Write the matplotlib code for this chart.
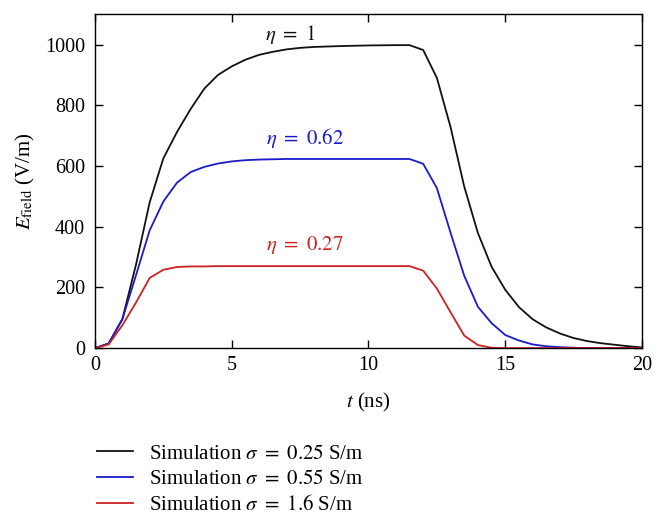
import matplotlib
matplotlib.use("Agg")
import matplotlib.pyplot as plt

plt.rcParams['font.family'] = ['Liberation Serif', 'DejaVu Serif']
plt.rcParams['mathtext.fontset'] = 'stix'

t = [0, 0.5, 1, 1.5, 2, 2.5, 3, 3.5, 4, 4.5, 5, 5.5, 6, 6.5, 7, 7.5, 8, 9, 10, 11, 11.5,
     12, 12.5, 13, 13.5, 14, 14.5, 15, 15.5, 16, 16.5, 17, 17.5, 18, 18.5, 19, 19.5, 20]
e_025 = [0, 15, 95, 275, 480, 625, 712, 788, 855, 900, 928, 950, 966, 976, 984, 989, 992, 995, 997, 998, 998,
         982, 890, 728, 532, 379, 268, 192, 135, 95, 68, 48, 33, 23, 16, 11, 6, 2]
e_055 = [0, 15, 95, 240, 388, 483, 545, 580, 597, 608, 615, 619, 621, 622, 623, 623, 623, 623, 623, 623, 623,
         607, 527, 380, 238, 136, 82, 43, 25, 12, 6, 3, 1, 0, 0, 0, 0, 0]
e_160 = [0, 12, 75, 150, 231, 258, 267, 269, 269, 270, 270, 270, 270, 270, 270, 270, 270, 270, 270, 270, 270,
         255, 196, 118, 41, 10, 1, 0, 0, 0, 0, 0, 0, 0, 0, 0, 0, 0]

labels = [r'Simulation $\sigma\ =\ 0.25$ S/m', r'Simulation $\sigma\ =\ 0.55$ S/m', r'Simulation $\sigma\ =\ 1.6$ S/m']
colors = ['#111111', '#1a1acc', '#cc2222']
eta_text = [r'$\eta\ =\ 1$', r'$\eta\ =\ 0.62$', r'$\eta\ =\ 0.27$']

fig = plt.figure(figsize=(6.66, 5.25), dpi=100)
ax = fig.add_axes([0.1426, 0.337, 0.8214, 0.636])

series = [e_025, e_055, e_160]
lines = []
for y, c, lab in zip(series, colors, labels):
    ln, = ax.plot(t, y, color=c, lw=1.3, label=lab)
    lines.append(ln)

ax.set_xlim(0, 20)
ax.set_ylim(0, 1100)
ax.set_xticks([0, 5, 10, 15, 20])
ax.set_yticks([0, 200, 400, 600, 800, 1000])
ax.tick_params(direction='in', top=True, right=True, labelsize=14.5, length=6, width=1)
ax.tick_params(axis='y', pad=7)
ax.tick_params(axis='x', pad=6)
for s in ax.spines.values():
    s.set_linewidth(1.0)

ax.set_xlabel(r'$t$ (ns)', fontsize=15, labelpad=11)
ax.set_ylabel(r'$E_{\mathrm{field}}$ (V/m)', fontsize=15, labelpad=6)

ax.text(7.13, 1033, eta_text[0], color=colors[0], fontsize=15, ha='center', va='center')
ax.text(7.68, 693, eta_text[1], color=colors[1], fontsize=15, ha='center', va='center')
ax.text(7.68, 340, eta_text[2], color=colors[2], fontsize=15, ha='center', va='center')

fig.legend(handles=lines, loc='upper left', bbox_to_anchor=(0.145, 0.154), frameon=False,
           fontsize=15, handlelength=1.75, handletextpad=0.75, labelspacing=0.28, borderpad=0,
           borderaxespad=0)

fig.savefig('out.png', dpi=100)
